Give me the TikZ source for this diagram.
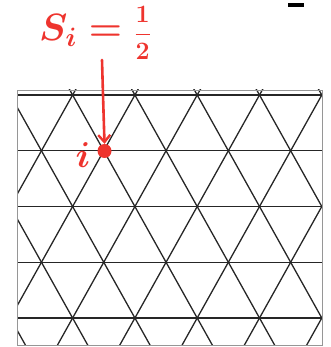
\RequirePackage{fix-cm}
\documentclass[tikz,border=0pt]{standalone}
\usepackage{amsmath}
\usetikzlibrary{arrows.meta, positioning}
\definecolor{inkred}{RGB}{238,52,46}
\definecolor{gridgrey}{RGB}{150,150,150}

\begin{document}
\begin{tikzpicture}[
  x=1pt, y=-1pt,
  gridline/.style={line width=1.3pt, black!85},
  frame/.style={draw=gridgrey, line width=0.7pt},
  ink/.style={text=inkred, inner sep=0pt},
  inkarr/.style={-{Straight Barb[length=7pt,width=12pt,line width=2.4pt]},
              line width=2.6pt, inkred, line cap=round},
  vdot/.style={circle, fill=inkred, inner sep=0pt, minimum width=11pt,
              minimum height=14pt}
]
\useasboundingbox (0,0) rectangle (330,347);

% ── Triangular grid, clipped to the frame ──
\begin{scope}
  \clip (17,90) rectangle (322,345);
  \foreach \k in {0,...,4}
    \draw[gridline] (0,95+55.75*\k) -- (330,95+55.75*\k);
  \foreach \j in {-6,...,10} {
    \draw[gridline] (10.3+62.3*\j-31.15*6,95-55.75*6)
                 -- (10.3+62.3*\j+31.15*6,95+55.75*6);
    \draw[gridline] (10.3+62.3*\j+31.15*6,95-55.75*6)
                 -- (10.3+62.3*\j-31.15*6,95+55.75*6);
  }
\end{scope}
\draw[frame] (17,90) rectangle (322,345);

% ── Black dash, top right ──
\fill[black] (288,3) rectangle (304,7.5);

% ── Red annotation ──
\node[ink, font=\fontsize{38}{42}\selectfont\boldmath] (si) at (95,33)
  {$S_i=\text{\fontsize{25}{28}\selectfont$\dfrac{1}{2}$}$};
\node[vdot] (vi) at (104.5,151) {};
\node[ink, font=\fontsize{36}{40}\selectfont\boldmath, left=7pt of vi,
      yshift=-4pt] (ilbl) {$i$};
\coordinate (tail) at (102,60);
\draw[inkarr] (tail) .. controls (103,95) .. (vi.north);

\end{tikzpicture}
\end{document}
